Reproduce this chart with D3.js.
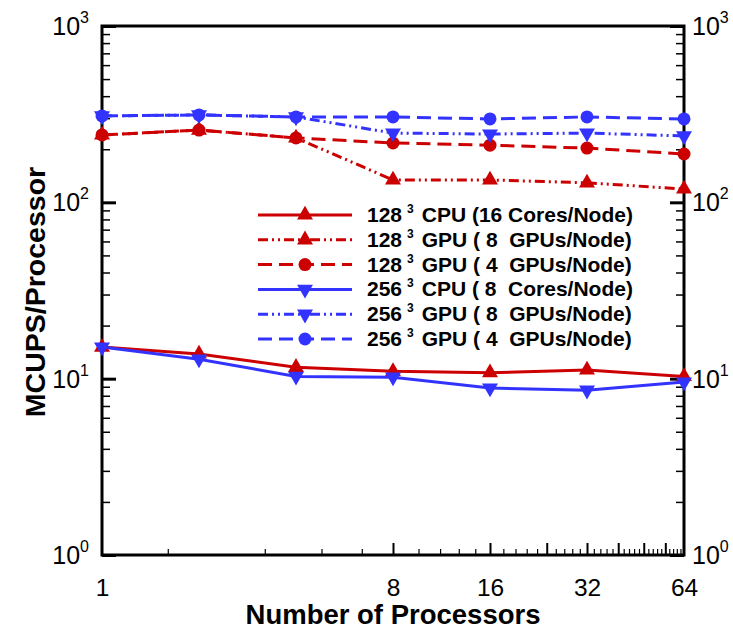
<!DOCTYPE html>
<html>
<head>
<meta charset="utf-8">
<script src="https://cdn.jsdelivr.net/npm/d3@7"></script>
<style>
  body { margin: 0; background: #fff; }
  svg { display: block; font-family: "Liberation Sans", Arial, sans-serif; }
</style>
</head>
<body>
<svg id="chart" width="733" height="630"></svg>
<script>
// data
const procs = [1, 2, 4, 8, 16, 32, 64];
const cpu128 = [15.1, 13.8, 11.6, 11.0, 10.8, 11.2, 10.3];
const gpu128x8 = [241, 257, 232, 134, 134, 129, 119];
const gpu128x4 = [241, 257, 232, 217, 211, 203, 188];
const cpu256 = [15.1, 12.9, 10.3, 10.2, 8.85, 8.6, 9.57];
const gpu256x8 = [309, 313, 305, 247, 244, 247, 238];
const gpu256x4 = [309, 313, 305, 305, 297, 305, 297];

const xLabels = [1, 8, 16, 32, 64];
const yDecades = [1, 10, 100, 1000];

const series = [
  { size: "128", label: "CPU (16 Cores/Node)", values: cpu128, color: "#cc0000", dash: null, marker: "up" },
  { size: "128", label: "GPU ( 8  GPUs/Node)", values: gpu128x8, color: "#cc0000", dash: "10,4,2,4,2,4", marker: "up" },
  { size: "128", label: "GPU ( 4  GPUs/Node)", values: gpu128x4, color: "#cc0000", dash: "14,7", marker: "circle" },
  { size: "256", label: "CPU ( 8  Cores/Node)", values: cpu256, color: "#3333ff", dash: null, marker: "down" },
  { size: "256", label: "GPU ( 8  GPUs/Node)", values: gpu256x8, color: "#3333ff", dash: "10,4,2,4,2,4", marker: "down" },
  { size: "256", label: "GPU ( 4  GPUs/Node)", values: gpu256x4, color: "#3333ff", dash: "14,7", marker: "circle" },
];

const svg = d3.select("#chart");
const plotLeft = 102, plotRight = 684, plotTop = 26, plotBottom = 555;

const x = d3.scaleLog().base(2).domain([1, 64]).range([plotLeft, plotRight]);
const y = d3.scaleLog().domain([1, 1000]).range([plotBottom, plotTop]);

// minor y ticks 2..9 per decade
const yMinor = [];
for (let d = 1; d < 1000; d *= 10) {
  for (let k = 2; k <= 9; k++) yMinor.push(d * k);
}
// x ticks: major every 8, minor every 1.6
const xMajor = [8, 16, 24, 32, 40, 48, 56];
const xMinor = d3.range(1, 40).map((k) => +(k * 1.6).toFixed(1)).filter((v) => v < 64 && v % 8 !== 0);

function tickAxis(axis, values, size, width, transform) {
  const g = svg.append("g")
    .attr("transform", transform)
    .call(axis.tickValues(values).tickSize(size).tickFormat(""));
  g.select(".domain").remove();
  g.selectAll("line").attr("stroke", "#000").attr("stroke-width", width);
}

tickAxis(d3.axisRight(y), yMinor, 8, 1.5, `translate(${plotLeft},0)`);
tickAxis(d3.axisRight(y), yDecades, 14, 3, `translate(${plotLeft},0)`);
tickAxis(d3.axisLeft(y), yMinor, 8, 1.5, `translate(${plotRight},0)`);
tickAxis(d3.axisLeft(y), yDecades, 14, 3, `translate(${plotRight},0)`);
tickAxis(d3.axisTop(x), xMinor, 6, 1.2, `translate(0,${plotBottom})`);
tickAxis(d3.axisTop(x), xMajor, 12, 2, `translate(0,${plotBottom})`);

// frame
svg.append("path")
  .attr("d", `M${plotLeft},${plotTop}H${plotRight}V${plotBottom}H${plotLeft}Z`)
  .attr("fill", "none")
  .attr("stroke", "#000")
  .attr("stroke-width", 3);

// x tick labels
const xAxis = svg.append("g")
  .attr("transform", `translate(0,${plotBottom})`)
  .call(d3.axisBottom(x).tickValues(xLabels).tickSize(0).tickPadding(24).tickFormat(d3.format("d")));
xAxis.select(".domain").remove();
xAxis.selectAll("text")
  .attr("font-family", "Liberation Sans, Arial, sans-serif")
  .attr("font-size", 24.5)
  .attr("fill", "#000");

// y tick labels with superscript exponents
function decadeLabel(xPos, anchor) {
  yDecades.forEach((v) => {
    const t = svg.append("text")
      .attr("x", xPos)
      .attr("y", y(v) + 9)
      .attr("text-anchor", anchor)
      .attr("font-size", 25);
    t.append("tspan").text("10");
    t.append("tspan")
      .attr("dy", -12)
      .attr("font-size", 16)
      .text(Math.round(Math.log10(v)));
  });
}
decadeLabel(89, "end");
decadeLabel(692, "start");

// axis titles
svg.append("text")
  .attr("x", 393)
  .attr("y", 624)
  .attr("text-anchor", "middle")
  .attr("font-size", 27.5)
  .attr("font-weight", "bold")
  .text("Number of Processors");

svg.append("text")
  .attr("transform", "translate(45,292) rotate(-90)")
  .attr("text-anchor", "middle")
  .attr("font-size", 28.5)
  .attr("font-weight", "bold")
  .text("MCUPS/Processor");

// markers
function drawMarker(g, kind, color) {
  if (kind === "circle") {
    g.append("circle").attr("r", 6.5).attr("fill", color);
  } else {
    g.append("path")
      .attr("d", d3.symbol(d3.symbolTriangle, 110)())
      .attr("transform", kind === "down" ? "rotate(180)" : null)
      .attr("fill", color);
  }
}

const line = d3.line()
  .x((d, i) => x(procs[i]))
  .y((d) => y(d));

series.forEach((s) => {
  svg.append("path")
    .datum(s.values)
    .attr("d", line)
    .attr("fill", "none")
    .attr("stroke", s.color)
    .attr("stroke-width", 3)
    .attr("stroke-dasharray", s.dash);

  s.values.forEach((v, i) => {
    const g = svg.append("g").attr("transform", `translate(${x(procs[i])},${y(v)})`);
    drawMarker(g, s.marker, s.color);
  });
});

// legend
const legend = svg.append("g").attr("transform", "translate(258,215)");
series.forEach((s, i) => {
  const row = legend.append("g").attr("transform", `translate(0,${i * 24.8})`);
  row.append("line")
    .attr("x1", 0).attr("x2", 94)
    .attr("stroke", s.color)
    .attr("stroke-width", 3)
    .attr("stroke-dasharray", s.dash);
  const m = row.append("g").attr("transform", "translate(47,0)");
  drawMarker(m, s.marker, s.color);

  const t = row.append("text")
    .attr("x", 109)
    .attr("y", 7)
    .attr("font-size", 21)
    .attr("font-weight", "bold")
    .style("white-space", "pre");
  t.append("tspan").text(s.size);
  t.append("tspan").attr("dx", 5).attr("dy", -9).attr("font-size", 12).text("3");
  t.append("tspan").attr("dx", 8).attr("dy", 9).text(s.label);
});
</script>
</body>
</html>
